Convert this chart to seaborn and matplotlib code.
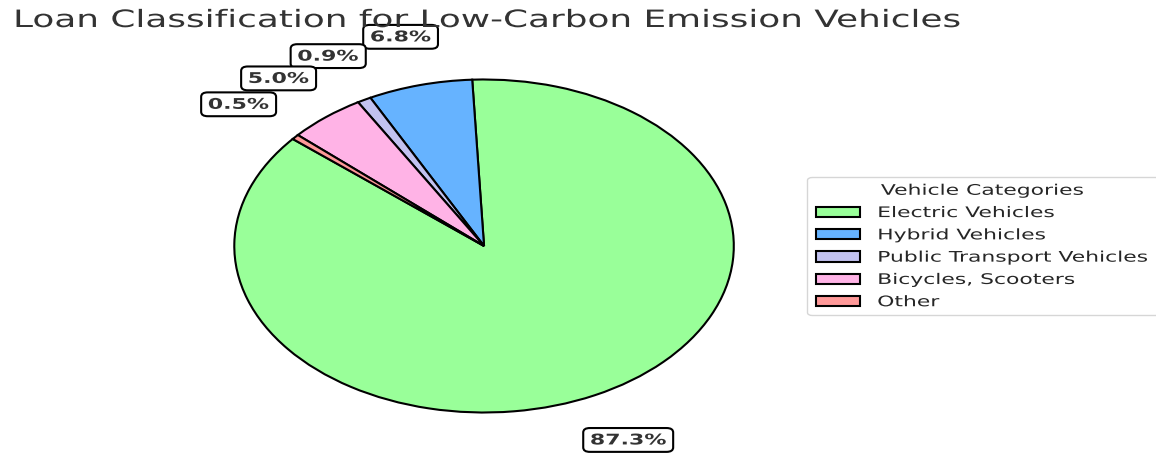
import matplotlib
matplotlib.use("Agg")
import matplotlib.pyplot as plt
import seaborn as sns
from matplotlib.patheffects import AbstractPathEffect
from matplotlib.transforms import Affine2D

# ---- data ----
categories = ["Electric Vehicles", "Hybrid Vehicles", "Public Transport Vehicles",
              "Bicycles, Scooters", "Other"]
loan_share = [87.3, 6.8, 0.9, 5.0, 0.5]
colors = ["#99ff99", "#66b3ff", "#c2c2f0", "#ffb3e6", "#ff9999"]
chart_title = "Loan Classification for Low-Carbon Emission Vehicles"
legend_title = "Vehicle Categories"

sns.set_theme(style="white")
plt.rcParams['font.family'] = ['DejaVu Sans']

# The reference image is stretched horizontally; reproduce that stretch
SX = 1.5
W, H = 1156, 454


class StretchX(AbstractPathEffect):
    def __init__(self, sx):
        super().__init__()
        self.sx = sx

    def draw_path(self, renderer, gc, tpath, affine, rgbFace=None):
        renderer.draw_path(gc, tpath, affine + Affine2D().scale(self.sx, 1.0), rgbFace)


fig = plt.figure(figsize=(W / 100, H / 100), dpi=100)
cx, cy, R = 322.7, 246, 166.5
ax = fig.add_axes([(cx - 1.25 * R) / W, (H - cy - 1.25 * R) / H, 2.5 * R / W, 2.5 * R / H])

label_iter = iter(loan_share)
wedges, texts, autotexts = ax.pie(
    loan_share, colors=colors, startangle=140,
    autopct=lambda p: f"{next(label_iter):.1f}%", pctdistance=1.3,
    wedgeprops=dict(edgecolor="black", linewidth=1.5),
    textprops=dict(fontsize=10.6, fontweight="bold", color=".2"))
for t in autotexts:
    t.set_bbox(dict(boxstyle="round,pad=0.3", facecolor="white",
                    edgecolor="black", linewidth=1.5))

leg = ax.legend(wedges, categories, title=legend_title, loc="center left",
                bbox_to_anchor=(1, 0, 0.5, 1), fontsize=10.5, title_fontsize=10.5)

title_text = fig.text(8.7 / W, (H - 27) / H, chart_title, fontsize=17.2,
                      color=".2", ha="left", va="baseline")

eff = [StretchX(SX)]
arts = (list(wedges) + list(texts) + list(autotexts) +
        [leg.get_frame(), leg.get_title(), title_text] +
        list(leg.get_texts()) + list(leg.legend_handles))
for t in autotexts:
    arts.append(t.get_bbox_patch())
for a in arts:
    a.set_path_effects(eff)
    a.set_clip_on(False)

fig.savefig("out.png", dpi=100)
